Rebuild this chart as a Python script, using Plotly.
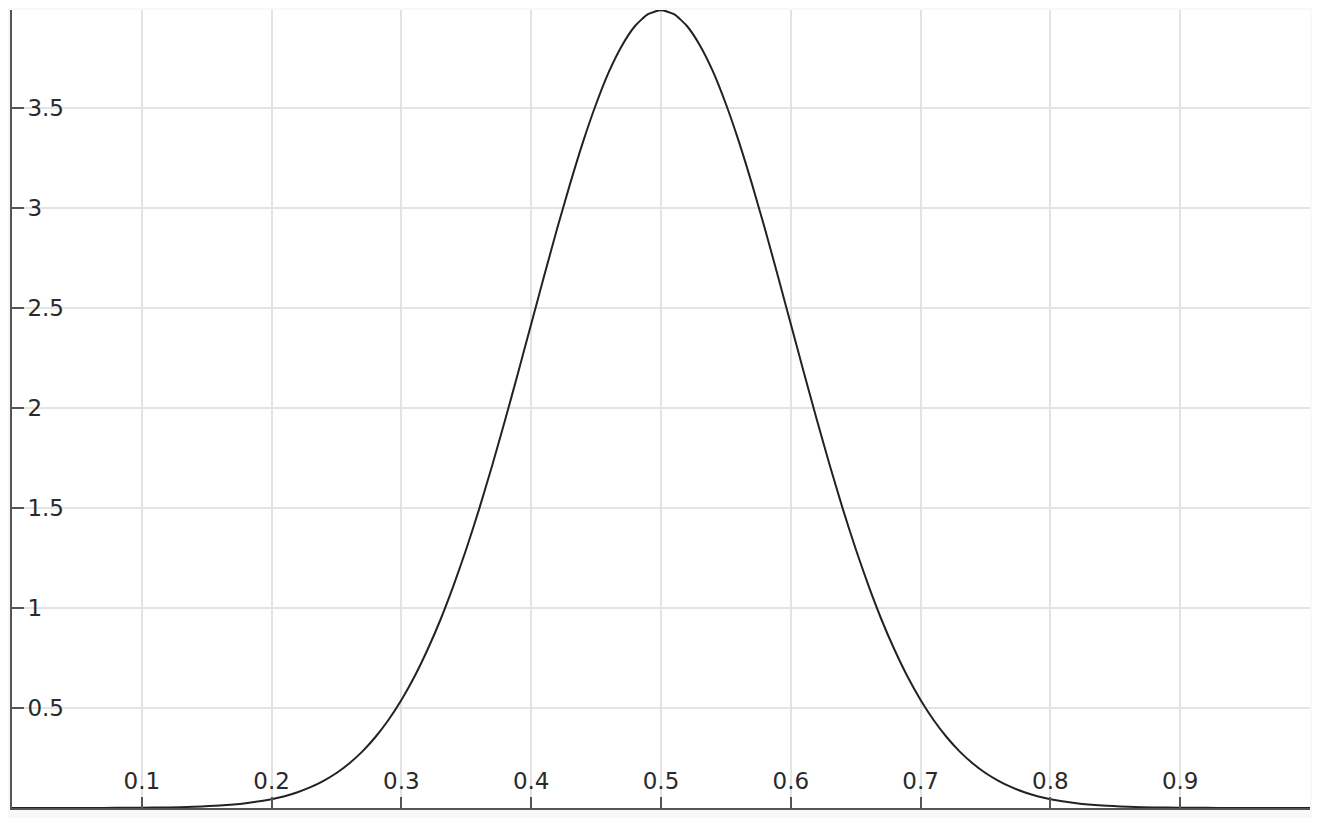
import plotly.graph_objects as go

# Sample positions and density values
x_vals = [0.00, 0.02, 0.04, 0.06, 0.08, 0.10, 0.12, 0.14, 0.16, 0.18,
          0.20, 0.21, 0.22, 0.23, 0.24, 0.25, 0.26, 0.27, 0.28, 0.29,
          0.30, 0.31, 0.32, 0.33, 0.34, 0.35, 0.36, 0.37, 0.38, 0.39,
          0.40, 0.41, 0.42, 0.43, 0.44, 0.45, 0.46, 0.47, 0.48, 0.49,
          0.50, 0.51, 0.52, 0.53, 0.54, 0.55, 0.56, 0.57, 0.58, 0.59,
          0.60, 0.61, 0.62, 0.63, 0.64, 0.65, 0.66, 0.67, 0.68, 0.69,
          0.70, 0.71, 0.72, 0.73, 0.74, 0.75, 0.76, 0.77, 0.78, 0.79,
          0.80, 0.82, 0.84, 0.86, 0.88, 0.90, 0.92, 0.94, 0.96, 0.98, 1.00]
y_vals = [0.000, 0.000, 0.000, 0.000, 0.001, 0.001, 0.003, 0.006, 0.012, 0.024,
          0.044, 0.059, 0.079, 0.104, 0.136, 0.175, 0.224, 0.283, 0.355, 0.440,
          0.540, 0.656, 0.790, 0.940, 1.109, 1.295, 1.497, 1.714, 1.942, 2.179,
          2.420, 2.661, 2.897, 3.122, 3.332, 3.520, 3.683, 3.813, 3.910, 3.969,
          3.989, 3.969, 3.910, 3.813, 3.683, 3.520, 3.332, 3.122, 2.897, 2.661,
          2.420, 2.179, 1.942, 1.714, 1.497, 1.295, 1.109, 0.940, 0.790, 0.656,
          0.540, 0.440, 0.355, 0.283, 0.224, 0.175, 0.136, 0.104, 0.079, 0.059,
          0.044, 0.024, 0.012, 0.006, 0.003, 0.001, 0.001, 0.000, 0.000, 0.000, 0.000]

x_tickvals = [0.1, 0.2, 0.3, 0.4, 0.5, 0.6, 0.7, 0.8, 0.9, 1.0]
x_ticktext = ["0.1", "0.2", "0.3", "0.4", "0.5", "0.6", "0.7", "0.8", "0.9", ""]
y_tickvals = [0.5, 1, 1.5, 2, 2.5, 3, 3.5, 3.99]
y_ticktext = ["0.5", "1", "1.5", "2", "2.5", "3", "3.5", ""]
x_range = [0, 1.0]
y_range = [0, 3.99]

fig = go.Figure()
fig.add_trace(go.Scatter(
    x=x_vals, y=y_vals, mode="lines",
    line=dict(color="#222222", width=2, shape="spline", smoothing=0.6),
    hoverinfo="skip", showlegend=False,
))

axis_font = dict(family="DejaVu Sans", size=23, color="#2a2a2a")

fig.update_layout(
    width=1312, height=810,
    margin=dict(l=4, r=10, t=2, b=10),
    paper_bgcolor="#f8f8f8",
    plot_bgcolor="#ffffff",
    xaxis=dict(
        range=x_range, tickmode="array", tickvals=x_tickvals, ticktext=x_ticktext,
        ticks="inside", ticklen=11, tickwidth=2, tickcolor="#555555",
        ticklabelposition="inside", tickfont=axis_font, ticklabelstandoff=5,
        showgrid=True, gridcolor="#e3e3e3", gridwidth=2,
        showline=True, linecolor="#555555", linewidth=2,
        zeroline=False, fixedrange=True,
    ),
    yaxis=dict(
        range=y_range, tickmode="array", tickvals=y_tickvals, ticktext=y_ticktext,
        ticks="inside", ticklen=12, tickwidth=2, tickcolor="#555555",
        ticklabelposition="inside", tickfont=axis_font, ticklabelstandoff=5,
        showgrid=True, gridcolor="#e3e3e3", gridwidth=2,
        showline=True, linecolor="#555555", linewidth=2,
        zeroline=False, fixedrange=True,
    ),
)

fig.write_html("out.html", config={"displayModeBar": False})
